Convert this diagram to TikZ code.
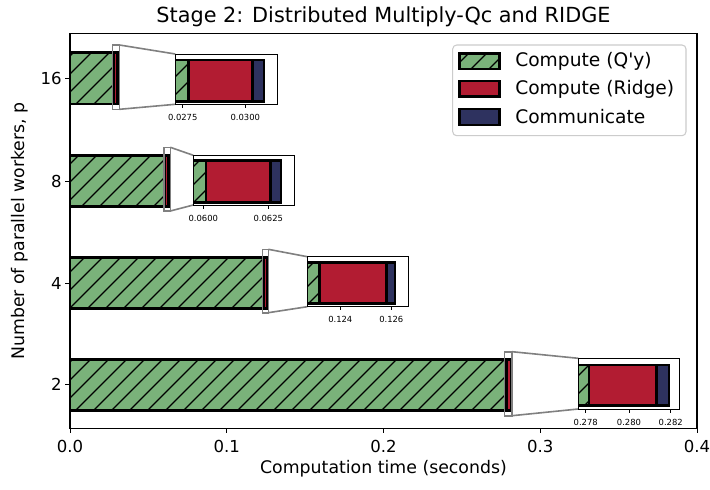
\documentclass[tikz,border=0pt]{standalone}
\usepackage{fontspec}
\setmainfont{DejaVu Sans}
\definecolor{cq}{RGB}{122,178,122}
\definecolor{cr}{RGB}{178,28,50}
\definecolor{cc}{RGB}{46,50,95}
\definecolor{zg}{RGB}{128,128,128}
\definecolor{lg}{RGB}{204,204,204}
\tikzset{
  edge/.style={draw=black,line width=2.1pt,line join=miter},
  hatchln/.style={black,line width=0.9pt},
  zoomln/.style={draw=zg,line width=1.2pt},
  inframe/.style={draw=black,line width=0.75pt},
  tk/.style={black,line width=0.75pt},
  ticklab/.style={font=\fontsize{12.4pt}{14pt}\selectfont,inner sep=0pt},
  itl/.style={font=\fontsize{6.3pt}{7pt}\selectfont,inner sep=0pt},
  leglab/.style={font=\fontsize{14pt}{16pt}\selectfont,inner sep=0pt,anchor=west},
}
\newcommand\mybar[6]{%
  \fill[cq] (#1,#5) rectangle (#2,#6);
  \begin{scope}
    \clip (#1,#5) rectangle (#2,#6);
    \foreach \k in {0,...,72} {\draw[hatchln] (\k*18,0) -- ++(-520,520);}
  \end{scope}
  \draw[edge] (#1,#5) rectangle (#2,#6);
  \filldraw[edge,fill=cr] (#2,#5) rectangle (#3,#6);
  \filldraw[edge,fill=cc] (#3,#5) rectangle (#4,#6);
}
\newcommand\myinset[9]{%
  \fill[white] (#1,#3) rectangle (#2,#4);
  \begin{scope}
    \clip (#1,#3) rectangle (#2,#4);
    \mybar{#1-12}{#7}{#8}{#9}{#5}{#6}
  \end{scope}
  \draw[inframe] (#1,#3) rectangle (#2,#4);
}
\begin{document}
\begin{tikzpicture}[x=0.75pt,y=-0.75pt]
\useasboundingbox (0,0) rectangle (710,489);
\fill[white] (0,0) rectangle (710,489);

% main bars
\mybar{70}{113.45}{117.5}{118.2}{52.8}{104}
\mybar{70}{164.2}{168.1}{168.7}{155.3}{206.6}
\mybar{70}{263.1}{267.2}{267.7}{257.7}{308.6}
\mybar{70}{506.3}{510.9}{511.9}{359.3}{410.3}

% zoom rectangles and connectors
\coordinate (r16a) at (119.5,45);   \coordinate (r16b) at (119.5,109.3);
\coordinate (i16a) at (175.3,54);   \coordinate (i16b) at (175.3,104.3);
\draw[zoomln] (112.6,45) rectangle (r16b);
\draw[zoomln] (r16a) -- (i16a);
\draw[zoomln] (r16b) -- (i16b);

\coordinate (r8a) at (170.3,147.3);  \coordinate (r8b) at (170.3,211);
\coordinate (i8a) at (193.3,155.3);  \coordinate (i8b) at (193.3,205);
\draw[zoomln] (163.7,147.3) rectangle (r8b);
\draw[zoomln] (r8a) -- (i8a);
\draw[zoomln] (r8b) -- (i8b);

\coordinate (r4a) at (268.3,249.3);  \coordinate (r4b) at (268.3,312.7);
\coordinate (i4a) at (307.3,256.7);  \coordinate (i4b) at (307.3,306.7);
\draw[zoomln] (262.3,249.3) rectangle (r4b);
\draw[zoomln] (r4a) -- (i4a);
\draw[zoomln] (r4b) -- (i4b);

\coordinate (r2a) at (512,351.7);  \coordinate (r2b) at (512,415.7);
\coordinate (i2a) at (578.3,358.3);  \coordinate (i2b) at (578.3,409);
\draw[zoomln] (504.3,351.7) rectangle (r2b);
\draw[zoomln] (r2a) -- (i2a);
\draw[zoomln] (r2b) -- (i2b);

% insets
\myinset{175.3}{277.3}{54}{104.3}{60}{101.7}{188.3}{252.7}{264}
\myinset{193.3}{294.3}{155.3}{205}{160.7}{202.7}{206}{270.7}{281}
\myinset{307.3}{408.3}{256.7}{306.7}{262.3}{303.3}{319.7}{386.7}{395}
\myinset{578.3}{679.3}{358.3}{409}{365}{405.7}{589}{656.7}{669}

% inset ticks
\foreach \x/\t [count=\i] in {182.7/0.0275,245.3/0.0300} {
  \draw[tk] (\x,104.3) -- ++(0,3.5);
  \node[itl] (a\i) at (\x,117.5) {\t};}
\foreach \x/\t [count=\i] in {203.3/0.0600,268.3/0.0625} {
  \draw[tk] (\x,205) -- ++(0,3.5);
  \node[itl] (b\i) at (\x,218.2) {\t};}
\foreach \x/\t [count=\i] in {340.3/0.124,391.3/0.126} {
  \draw[tk] (\x,306.7) -- ++(0,3.5);
  \node[itl] (c\i) at (\x,319.9) {\t};}
\foreach \x/\t [count=\i] in {585.7/0.278,629/0.280,670.7/0.282} {
  \draw[tk] (\x,409) -- ++(0,3.5);
  \node[itl] (d\i) at (\x,422.2) {\t};}

% main frame
\draw[black,line width=0.8pt] (70,33.5) rectangle (697,428.3);

% x ticks
\foreach \x/\t [count=\i] in {70/0.0,226.75/0.1,383.5/0.2,540.25/0.3,697/0.4} {
  \draw[tk] (\x,428.3) -- ++(0,4.8);
  \node[ticklab] (x\i) at (\x,446) {\t};}
% y ticks
\foreach \y/\t [count=\i] in {78.3/16,181/8,283/4,384.7/2} {
  \draw[tk] (70,\y) -- ++(-4.8,0);
  \node[ticklab,anchor=east] (y\i) at (62,\y) {\t};}

% axis labels and title
\node[font=\fontsize{13pt}{15pt}\selectfont,inner sep=0pt] (xl) at (383.5,469) {Computation time (seconds)};
\node[font=\fontsize{13pt}{15pt}\selectfont,inner sep=0pt,rotate=90] (yl) at (20,231) {Number of parallel workers, p};
\node[font=\fontsize{15.6pt}{18pt}\selectfont,inner sep=0pt] (title) at (383.5,17) {Stage 2: Distributed Multiply-Qc and RIDGE};

% legend
\filldraw[draw=lg,fill=white,line width=0.8pt,rounded corners=3pt] (452.7,45) rectangle (686,135.7);
\fill[cq] (459.3,53.3) rectangle (499.3,69);
\begin{scope}
  \clip (459.3,53.3) rectangle (499.3,69);
  \foreach \k in {0,...,72} {\draw[hatchln] (\k*18,0) -- ++(-520,520);}
\end{scope}
\draw[edge] (459.3,53.3) rectangle (499.3,69);
\filldraw[edge,fill=cr] (459.3,81) rectangle (499.3,96.7);
\filldraw[edge,fill=cc] (459.3,109) rectangle (499.3,125);
\node[leglab] (l1) at (515,61.5) {Compute (Q\textquotesingle y)};
\node[leglab] (l2) at (515,89) {Compute (Ridge)};
\node[leglab] (l3) at (515,117) {Communicate};
\end{tikzpicture}
\end{document}
